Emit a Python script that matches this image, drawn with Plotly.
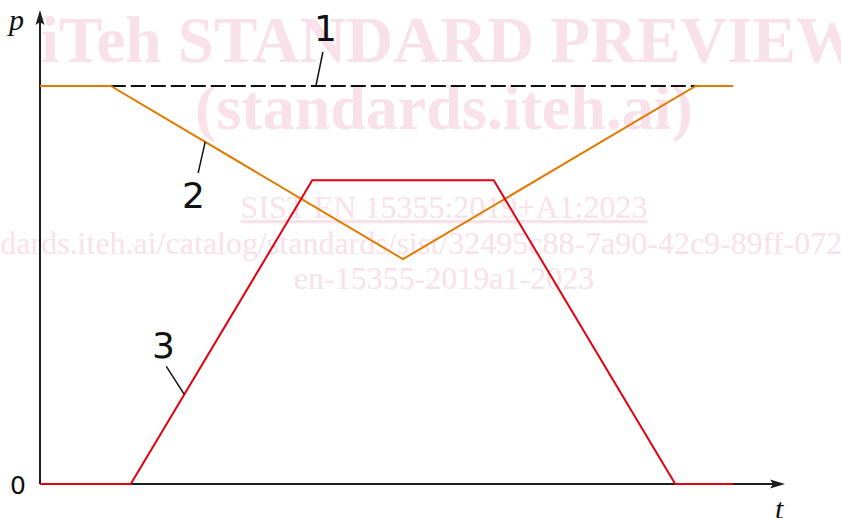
import numpy as np
import plotly.graph_objects as go

# ---- data: time breakpoints and pressure levels of the three curves ----
t_curve1 = [7.8, 72.25]                 # 1: reference level (dashed)
p_curve1 = [100, 100]
t_curve2 = [0, 7.8, 40, 72.25, 76.4]    # 2: orange curve
p_curve2 = [100, 100, 56.5, 100, 100]
t_curve3 = [0, 10, 30, 50, 70, 76.4]    # 3: red curve
p_curve3 = [0, 0, 76.3, 76.3, 0, 0]

curve_labels = ["1", "2", "3"]
label_t = [30.4, 18.2, 15.9]            # where each leader touches its curve

t_axis_end = 82.1
p_axis_end = 119.1

watermark_lines = [
    "<b>iTeh STANDARD PREVIEW</b>",
    "<b>(standards.iteh.ai)</b>",
    "<u>SIST EN 15355:2019+A1:2023</u>",
    "en-15355-2019a1-2023",
]
watermark_url = "https://standards.iteh.ai/catalog/standards/sist/32495c88-7a90-42c9-89ff-0723"

# ---- canvas geometry ----
W, H = 841, 518
ORIGIN_PX = (40, 484)
SX, SY = 9.075, 3.98                    # pixels per data unit
X0 = -ORIGIN_PX[0] / SX
X1 = (W - ORIGIN_PX[0]) / SX
Y0 = -(H - ORIGIN_PX[1]) / SY
Y1 = ORIGIN_PX[1] / SY
ux = (X1 - X0) / W                      # data units per pixel
uy = (Y1 - Y0) / H

AXIS_COLOR = "#1e1e1e"
ORANGE = "#e27a00"
RED = "#e3000f"
PINK = "#f9e1e9"
SERIF = "Liberation Serif"

fig = go.Figure()

# watermark text sits underneath everything
wm_x_px = [451, 444, 444, 444]
wm_y_px = [46, 113, 210, 281]
wm_sizes = [65, 64, 32, 32]
for txt, xpx, ypx, fs in zip(watermark_lines, wm_x_px, wm_y_px, wm_sizes):
    fig.add_trace(go.Scatter(
        x=[X0 + xpx * ux], y=[Y1 - ypx * uy], mode="text", text=[txt],
        textposition="middle center", cliponaxis=False,
        textfont=dict(family=SERIF, size=fs, color=PINK),
        hoverinfo="skip", showlegend=False))
# the long link line runs past both edges of the canvas
fig.add_trace(go.Scatter(
    x=[X0 + 359 * ux], y=[Y1 - 246 * uy], mode="text", text=[watermark_url],
    textposition="middle center", cliponaxis=True,
    textfont=dict(family=SERIF, size=32, color=PINK),
    hoverinfo="skip", showlegend=False))

# axes with arrow heads
head_len, head_notch, head_half = 15, 12, 4.5
fig.add_trace(go.Scatter(x=[0, t_axis_end - head_notch * ux], y=[0, 0], mode="lines",
                         line=dict(color=AXIS_COLOR, width=2), hoverinfo="skip", showlegend=False))
fig.add_trace(go.Scatter(x=[0, 0], y=[0, p_axis_end - head_notch * uy], mode="lines",
                         line=dict(color=AXIS_COLOR, width=2), hoverinfo="skip", showlegend=False))
fig.add_trace(go.Scatter(
    x=[t_axis_end, t_axis_end - head_len * ux, t_axis_end - head_notch * ux, t_axis_end - head_len * ux, t_axis_end],
    y=[0, head_half * uy, 0, -head_half * uy, 0],
    mode="lines", fill="toself", fillcolor=AXIS_COLOR, line=dict(width=0, color=AXIS_COLOR),
    hoverinfo="skip", showlegend=False))
fig.add_trace(go.Scatter(
    x=[0, head_half * ux, 0, -head_half * ux, 0],
    y=[p_axis_end, p_axis_end - head_len * uy, p_axis_end - head_notch * uy, p_axis_end - head_len * uy, p_axis_end],
    mode="lines", fill="toself", fillcolor=AXIS_COLOR, line=dict(width=0, color=AXIS_COLOR),
    hoverinfo="skip", showlegend=False))

# the three curves
fig.add_trace(go.Scatter(x=t_curve1, y=p_curve1, mode="lines",
                         line=dict(color="#111111", width=2, dash="15px,5px"),
                         hoverinfo="skip", showlegend=False))
fig.add_trace(go.Scatter(x=t_curve2, y=p_curve2, mode="lines",
                         line=dict(color=ORANGE, width=2), hoverinfo="skip", showlegend=False))
fig.add_trace(go.Scatter(x=t_curve3, y=p_curve3, mode="lines",
                         line=dict(color=RED, width=2), hoverinfo="skip", showlegend=False))

# numbered leaders: pixel offsets of the leader end and of the label centre
curves = [(t_curve1, p_curve1), (t_curve2, p_curve2), (t_curve3, p_curve3)]
leader_end = [(7, 34), (-7, -31), (-18, 28)]
label_shift = [(10, 58), (-12, -54), (-21, 49)]
for lab, tl, (tc, pc), (dx, dy), (sx, sy) in zip(curve_labels, label_t, curves, leader_end, label_shift):
    pl = float(np.interp(tl, tc, pc))
    fig.add_shape(type="line", xref="x", yref="y", xsizemode="pixel", ysizemode="pixel",
                  xanchor=tl, yanchor=pl, x0=0, y0=0, x1=dx, y1=dy,
                  line=dict(color="#111111", width=1.5))
    fig.add_annotation(x=tl, y=pl, text=lab, showarrow=False, xshift=sx, yshift=sy,
                       font=dict(family="DejaVu Sans", size=36, color="#111111"))

# axis names and origin label
fig.add_annotation(x=0, y=p_axis_end, text="<i>p</i>", showarrow=False, xshift=-25, yshift=-10,
                   font=dict(family=SERIF, size=30, color="#111111"))
fig.add_annotation(x=t_axis_end, y=0, text="<i>t</i>", showarrow=False, xshift=-6, yshift=-24,
                   font=dict(family=SERIF, size=30, color="#111111"))
fig.add_annotation(x=0, y=0, text="0", showarrow=False, xshift=-22, yshift=-1,
                   font=dict(family="DejaVu Sans", size=25, color="#111111"))

fig.update_layout(
    width=W, height=H, margin=dict(l=0, r=0, t=0, b=0),
    paper_bgcolor="white", plot_bgcolor="white",
    xaxis=dict(range=[X0, X1], visible=False, fixedrange=True),
    yaxis=dict(range=[Y0, Y1], visible=False, fixedrange=True),
    showlegend=False,
)

fig.write_html("out.html")
